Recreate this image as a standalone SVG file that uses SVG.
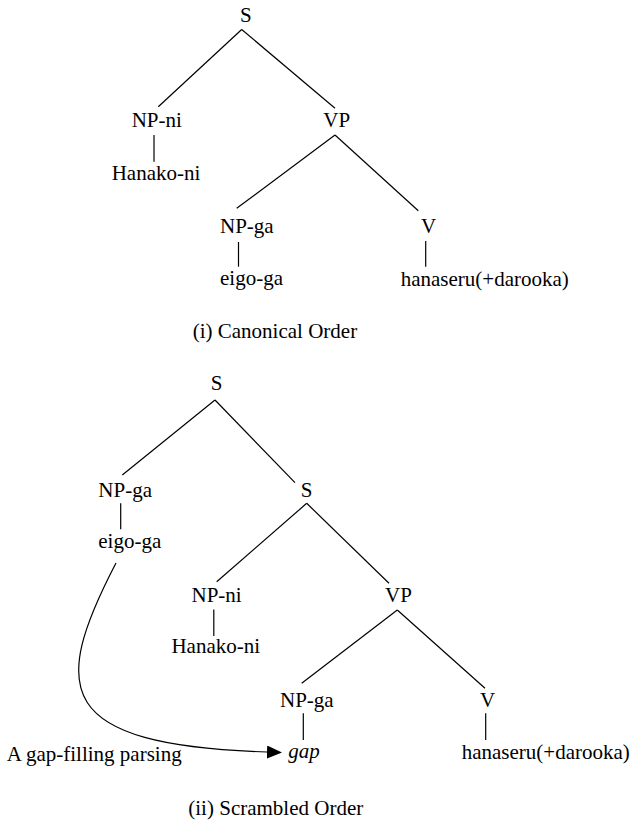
<svg xmlns="http://www.w3.org/2000/svg" width="635" height="823" viewBox="0 0 635 823" font-family="'Liberation Serif', Tinos, 'Times New Roman', 'DejaVu Serif', serif">
  <style>
    text { font-family: 'Liberation Serif', Tinos, 'Times New Roman', 'DejaVu Serif', serif; font-size: 21px; fill: #000; }
    .it { font-style: italic; }
    .edge { stroke: #000; stroke-width: 1.2; fill: none; }
  </style>
  <defs>
    <marker id="arrow" markerUnits="userSpaceOnUse" markerWidth="16" markerHeight="14" refX="0" refY="6.5" orient="auto">
      <path d="M0,0 L15,6.5 L0,13 z" fill="#000"/>
    </marker>
  </defs>
  <rect width="635" height="823" fill="#fff"/>

  <g id="connectors">
    <line class="edge" x1="241.7" y1="29.5" x2="158.3" y2="106.7"/>
    <line class="edge" x1="241.7" y1="29.5" x2="335" y2="108.3"/>
    <line class="edge" x1="154" y1="135" x2="154" y2="161.7"/>
    <line class="edge" x1="335" y1="135" x2="236.7" y2="208.3"/>
    <line class="edge" x1="335" y1="135" x2="418.3" y2="210.7"/>
    <line class="edge" x1="238.5" y1="242" x2="238.5" y2="266.7"/>
    <line class="edge" x1="425.7" y1="241" x2="425.7" y2="266.7"/>
    <line class="edge" x1="215" y1="400" x2="122.3" y2="475"/>
    <line class="edge" x1="215" y1="400" x2="295" y2="482.7"/>
    <line class="edge" x1="120.7" y1="503.3" x2="120.7" y2="529.3"/>
    <line class="edge" x1="306.7" y1="503.3" x2="216.7" y2="581.7"/>
    <line class="edge" x1="306.7" y1="503.3" x2="389" y2="583.3"/>
    <line class="edge" x1="213.8" y1="609.4" x2="213.8" y2="636"/>
    <line class="edge" x1="397.3" y1="610" x2="301.7" y2="683.3"/>
    <line class="edge" x1="397.3" y1="610" x2="485" y2="688.3"/>
    <line class="edge" x1="303.3" y1="713.3" x2="303.3" y2="740"/>
    <line class="edge" x1="485.7" y1="713.3" x2="485.7" y2="740"/>
    <path class="edge" d="M116,563 C50,690 55,745 267,752" marker-end="url(#arrow)"/>
  </g>

  <g id="t1-S"><text x="240" y="22">S</text></g>
  <g id="t1-NP-ni"><text x="131.7" y="127.3">NP-ni</text></g>
  <g id="t1-Hanako-ni"><text x="111.7" y="180">Hanako-ni</text></g>
  <g id="t1-VP"><text x="323.3" y="127.3">VP</text></g>
  <g id="t1-NP-ga"><text x="220" y="233.3">NP-ga</text></g>
  <g id="t1-eigo-ga"><text x="220" y="285">eigo-ga</text></g>
  <g id="t1-V"><text x="421" y="233.3">V</text></g>
  <g id="t1-hanaseru"><text x="400.7" y="285.5">hanaseru(+darooka)</text></g>
  <g id="caption-i"><text x="192.7" y="338.3">(i) Canonical Order</text></g>

  <g id="t2-S"><text x="210.7" y="390">S</text></g>
  <g id="t2-NP-ga"><text x="98.3" y="496.7">NP-ga</text></g>
  <g id="t2-eigo-ga"><text x="98.3" y="548.3">eigo-ga</text></g>
  <g id="t2-S2"><text x="306.7" y="496.7" text-anchor="middle">S</text></g>
  <g id="t2-NP-ni"><text x="191.5" y="601.7">NP-ni</text></g>
  <g id="t2-Hanako-ni"><text x="171.4" y="653.3">Hanako-ni</text></g>
  <g id="t2-VP"><text x="385" y="601.7">VP</text></g>
  <g id="t2-NP-ga2"><text x="280" y="706.7">NP-ga</text></g>
  <g id="t2-V"><text x="480" y="706.7">V</text></g>
  <g id="t2-gap"><text class="it" x="288.3" y="758">gap</text></g>
  <g id="t2-hanaseru"><text x="461.7" y="759">hanaseru(+darooka)</text></g>
  <g id="label-gap-filling"><text x="6.7" y="761">A gap-filling parsing</text></g>
  <g id="caption-ii"><text x="188.3" y="815">(ii) Scrambled Order</text></g>
</svg>
